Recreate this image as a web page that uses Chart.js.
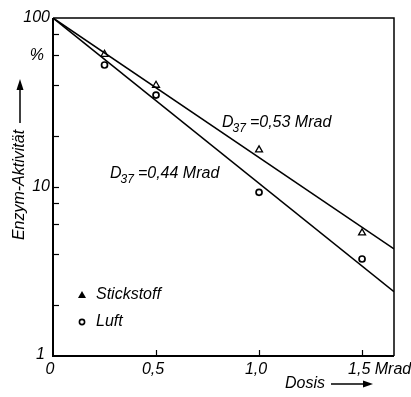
<!DOCTYPE html>
<html>
<head>
<meta charset="utf-8">
<script src="https://cdn.jsdelivr.net/npm/chart.js@4"></script>
<style>
  html, body { margin: 0; padding: 0; background: #fff; }
  #wrap { width: 411px; height: 397px; }
</style>
</head>
<body>
<div id="wrap"><canvas id="chart" width="411" height="397"></canvas></div>
<script>
// measured points (dose in Mrad, activity in %)
const doseMeasured = [0.25, 0.5, 1.0, 1.5];
const stickstoff = [61, 40, 16.6, 5.35];
const luft = [52.7, 35, 9.3, 3.75];

// fitted lines, end points
const fitDose = [0, 1.655];
const fitStickstoff = [100, 4.3];
const fitLuft = [100, 2.4];

// axis ticks
const doseTicks = [0, 0.5, 1.0, 1.5];
const doseLabels = ['0', '0,5', '1,0', '1,5 Mrad'];
const activityTicks = [1, 2, 4, 6, 8, 10, 20, 40, 60, 80, 100];
const activityLabels = { 1: '1', 10: '10', 60: '%', 100: '100' };

const FONT = 'italic 16px "Liberation Sans", Arial, sans-serif';

const toPoints = (xs, ys) => xs.map((x, i) => ({ x: x, y: ys[i] }));

function subLabel(ctx, x, y, sub, rest) {
    ctx.font = FONT;
    ctx.textAlign = 'left';
    ctx.textBaseline = 'alphabetic';
    ctx.fillText('D', x, y);
    let w = ctx.measureText('D').width;
    ctx.font = 'italic 12px "Liberation Sans", Arial, sans-serif';
    ctx.fillText(sub, x + w - 1, y + 5);
    w += ctx.measureText(sub).width + 3;
    ctx.font = FONT;
    ctx.fillText(rest, x + w, y);
}

const decor = {
    id: 'decor',
    afterDraw(chart) {
        const ctx = chart.ctx;
        const a = chart.chartArea;
        const xs = chart.scales.x, ys = chart.scales.y;
        ctx.save();
        ctx.strokeStyle = '#000';
        ctx.fillStyle = '#000';

        // axes (heavier) and frame
        ctx.lineWidth = 2;
        ctx.beginPath();
        ctx.moveTo(a.left, a.top);
        ctx.lineTo(a.left, a.bottom);
        ctx.lineTo(a.right, a.bottom);
        ctx.stroke();
        ctx.lineWidth = 1.5;
        ctx.beginPath();
        ctx.moveTo(a.left, a.top);
        ctx.lineTo(a.right, a.top);
        ctx.lineTo(a.right, a.bottom);
        ctx.stroke();

        // inward ticks
        ctx.lineWidth = 1.2;
        activityTicks.forEach(v => {
            if (v === 1 || v === 100) return;
            const py = Math.round(ys.getPixelForValue(v)) + 0.5;
            ctx.beginPath();
            ctx.moveTo(a.left, py);
            ctx.lineTo(a.left + 6, py);
            ctx.stroke();
        });
        doseTicks.forEach(v => {
            if (v === 0) return;
            const px = Math.round(xs.getPixelForValue(v)) + 0.5;
            ctx.beginPath();
            ctx.moveTo(px, a.bottom);
            ctx.lineTo(px, a.bottom - 6);
            ctx.stroke();
        });

        // tick labels
        ctx.font = FONT;
        ctx.textBaseline = 'middle';
        ctx.textAlign = 'right';
        Object.keys(activityLabels).forEach(k => {
            const v = Number(k);
            let py = ys.getPixelForValue(v);
            let px = a.left - 3;
            if (v === 60) px = a.left - 9;
            if (v === 1) { px = a.left - 8; py -= 1; }
            ctx.fillText(activityLabels[k], px, py);
        });
        ctx.textAlign = 'center';
        doseTicks.forEach((v, i) => {
            const px = xs.getPixelForValue(v) - 3;
            if (i === doseTicks.length - 1) {
                ctx.textAlign = 'left';
                ctx.fillText(doseLabels[i], px - 11, a.bottom + 14);
            } else {
                ctx.fillText(doseLabels[i], px, a.bottom + 14);
            }
        });

        // x title with arrow
        ctx.textAlign = 'left';
        ctx.fillText('Dosis', 285, 384);
        ctx.lineWidth = 1.5;
        ctx.beginPath();
        ctx.moveTo(331, 384);
        ctx.lineTo(366, 384);
        ctx.stroke();
        ctx.beginPath();
        ctx.moveTo(373, 384);
        ctx.lineTo(363, 380.5);
        ctx.lineTo(363, 387.5);
        ctx.closePath();
        ctx.fill();

        // y title with arrow
        ctx.save();
        ctx.translate(20, 185);
        ctx.rotate(-Math.PI / 2);
        ctx.textAlign = 'center';
        ctx.fillText('Enzym-Aktivität', 0, 0);
        ctx.restore();
        ctx.beginPath();
        ctx.moveTo(20, 123);
        ctx.lineTo(20, 87);
        ctx.stroke();
        ctx.beginPath();
        ctx.moveTo(20, 79);
        ctx.lineTo(16.5, 90);
        ctx.lineTo(23.5, 90);
        ctx.closePath();
        ctx.fill();

        // D37 annotations
        subLabel(ctx, 222, 127, '37', '=0,53 Mrad');
        subLabel(ctx, 110, 178, '37', '=0,44 Mrad');

        // legend
        ctx.beginPath();
        ctx.moveTo(82, 291);
        ctx.lineTo(78, 298);
        ctx.lineTo(86, 298);
        ctx.closePath();
        ctx.fill();
        ctx.lineWidth = 1.6;
        ctx.beginPath();
        ctx.arc(82, 322, 2.6, 0, Math.PI * 2);
        ctx.stroke();
        ctx.font = FONT;
        ctx.textAlign = 'left';
        ctx.textBaseline = 'middle';
        ctx.fillText('Stickstoff', 96, 295);
        ctx.fillText('Luft', 96, 322);

        ctx.restore();
    }
};

new Chart(document.getElementById('chart'), {
    type: 'scatter',
    data: {
        datasets: [
            {
                label: 'Stickstoff fit',
                data: toPoints(fitDose, fitStickstoff),
                showLine: true,
                borderColor: '#000',
                borderWidth: 1.6,
                pointRadius: 0
            },
            {
                label: 'Luft fit',
                data: toPoints(fitDose, fitLuft),
                showLine: true,
                borderColor: '#000',
                borderWidth: 1.6,
                pointRadius: 0
            },
            {
                label: 'Stickstoff',
                data: toPoints(doseMeasured, stickstoff),
                pointStyle: 'triangle',
                pointRadius: 4,
                borderColor: '#000',
                backgroundColor: '#fff',
                borderWidth: 1.3
            },
            {
                label: 'Luft',
                data: toPoints(doseMeasured, luft),
                pointStyle: 'circle',
                pointRadius: 3,
                borderColor: '#000',
                backgroundColor: '#fff',
                borderWidth: 1.7
            }
        ]
    },
    options: {
        responsive: false,
        animation: false,
        layout: { padding: { left: 53, top: 18, right: 17, bottom: 41 } },
        plugins: {
            legend: { display: false },
            tooltip: { enabled: false }
        },
        scales: {
            x: {
                type: 'linear',
                display: false,
                min: 0,
                max: 1.655
            },
            y: {
                type: 'logarithmic',
                display: false,
                min: 1,
                max: 100
            }
        }
    },
    plugins: [decor]
});
</script>
</body>
</html>
